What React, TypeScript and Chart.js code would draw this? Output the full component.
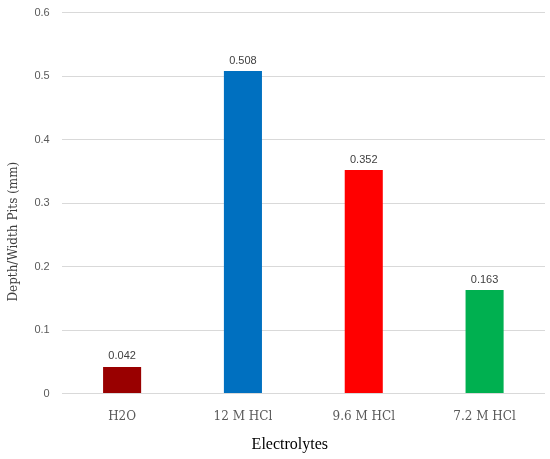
import React, { useEffect, useRef } from "react";
import { Chart, registerables } from "chart.js";

Chart.register(...registerables);

const categories = ["H2O", "12 M HCl", "9.6 M HCl", "7.2 M HCl"];
const values = [0.042, 0.508, 0.352, 0.163];
const valueLabels = ["0.042", "0.508", "0.352", "0.163"];
const barColors = ["#990000", "#0070C0", "#FF0000", "#00B050"];
const yTicks = [0, 0.1, 0.2, 0.3, 0.4, 0.5, 0.6];
const yTitle = "Depth/Width Pits (mm)";
const xTitle = "Electrolytes";
const serif = "'DejaVu Serif', 'Liberation Serif', serif";
const timesSerif = "'Liberation Serif', 'DejaVu Serif', serif";

const labelPlugin = {
  id: "valueLabels",
  afterDatasetsDraw(chart: any) {
    const ctx = chart.ctx;
    const meta = chart.getDatasetMeta(0);
    ctx.save();
    ctx.font = "11px 'Liberation Sans', Arial, sans-serif";
    ctx.fillStyle = "#404040";
    ctx.textAlign = "center";
    ctx.textBaseline = "bottom";
    meta.data.forEach((bar: any, i: number) => {
      ctx.fillText(valueLabels[i], bar.x, bar.y - 5);
    });
    ctx.restore();
  },
};

const titlesPlugin = {
  id: "shiftedTitles",
  afterDraw(chart: any) {
    const ctx = chart.ctx;
    const area = chart.chartArea;
    const cy = area.top + (area.bottom - area.top) * 0.575;
    ctx.save();
    ctx.translate(14, cy);
    ctx.rotate(-Math.PI / 2);
    ctx.font = `12px ${serif}`;
    ctx.fillStyle = "#404040";
    ctx.textAlign = "center";
    ctx.textBaseline = "middle";
    ctx.fillText(yTitle, 0, 0);
    ctx.restore();

    const cx = area.left + (area.right - area.left) * 0.472;
    ctx.save();
    ctx.font = `16px ${timesSerif}`;
    ctx.fillStyle = "#000000";
    ctx.textAlign = "center";
    ctx.textBaseline = "middle";
    ctx.fillText(xTitle, cx, chart.scales.x.bottom - 8);
    ctx.restore();
  },
};

export default function App() {
  const ref = useRef<HTMLCanvasElement>(null);
  useEffect(() => {
    document.body.style.margin = "0";
    const chart = new Chart(ref.current!, {
      type: "bar",
      data: {
        labels: categories,
        datasets: [
          {
            data: values,
            backgroundColor: barColors,
            borderWidth: 0,
            categoryPercentage: 1,
            barPercentage: 0.315,
          },
        ],
      },
      options: {
        animation: false,
        responsive: false,
        maintainAspectRatio: false,
        layout: { padding: { top: 0, right: 5, left: 2, bottom: 6 } },
        plugins: { legend: { display: false }, tooltip: { enabled: false } },
        scales: {
          x: {
            grid: { display: false, drawTicks: false },
            border: { display: false },
            ticks: {
              color: "#595959",
              font: { family: serif, size: 12 },
              padding: 16,
            },
            title: {
              display: true,
              text: xTitle,
              color: "rgba(0,0,0,0)",
              font: { family: serif, size: 15 },
              padding: { top: -5, bottom: 0 },
            },
          },
          y: {
            min: 0,
            max: 0.6,
            afterBuildTicks(axis: any) {
              axis.ticks = yTicks.map((v) => ({ value: v }));
            },
            grid: { color: "#d9d9d9", drawTicks: false, lineWidth: 1 },
            border: { display: false },
            ticks: {
              color: "#595959",
              font: { family: "'Liberation Sans', Arial, sans-serif", size: 11 },
              padding: 12,
              callback: (v: any) => String(Math.round(Number(v) * 10) / 10),
            },
            title: {
              display: true,
              text: yTitle,
              color: "rgba(0,0,0,0)",
              font: { family: serif, size: 12 },
              padding: { top: 0, bottom: 6 },
            },
          },
        },
      },
      plugins: [labelPlugin, titlesPlugin],
    });
    return () => chart.destroy();
  }, []);
  return (
    <div style={{ width: 550, height: 459, overflow: "hidden" }}>
      <canvas
        ref={ref}
        width={550}
        height={465}
        style={{ display: "block", marginTop: -6 }}
      />
    </div>
  );
}
